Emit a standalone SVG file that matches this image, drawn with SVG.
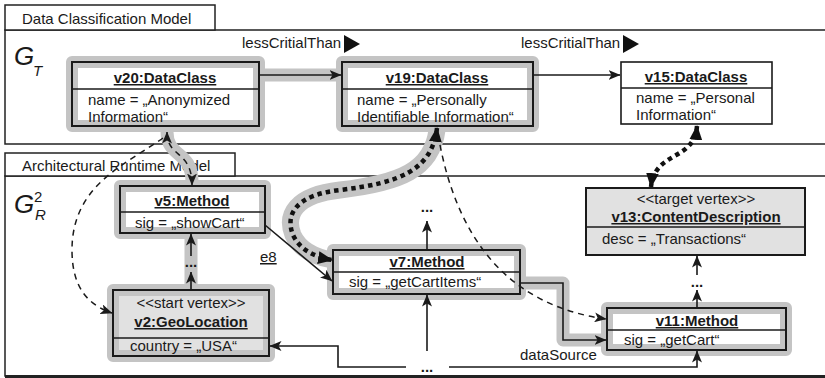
<svg xmlns="http://www.w3.org/2000/svg" width="825" height="378" viewBox="0 0 825 378">
<defs>
<style>
text{font-family:"Liberation Sans",Arial,Helvetica,sans-serif;font-size:15px;fill:#1a1a1a}
.t{font-weight:bold;text-decoration:underline;text-anchor:middle}
.c{text-anchor:middle}
.frame{fill:none;stroke:#222;stroke-width:1.5}
.tab{fill:#fff;stroke:#222;stroke-width:1.5}
.box{fill:#fff;stroke:none}
.gbox{fill:#e1e1e1;stroke:none}
.halo{fill:none;stroke:#c4c4c4;stroke-width:12;stroke-linejoin:round}
.bd{fill:none;stroke:#1a1a1a;stroke-width:2}
.dv{stroke:#1a1a1a;stroke-width:1.5}
.band{fill:none;stroke:#c4c4c4;stroke-width:13;stroke-linecap:round;stroke-linejoin:round}
.ln{fill:none;stroke:#1a1a1a;stroke-width:1.6}
.dash{fill:none;stroke:#1a1a1a;stroke-width:1.5;stroke-dasharray:6 5}
.dot{fill:none;stroke:#111;stroke-width:4.5;stroke-dasharray:4.5 4}
.dots{font-weight:bold;text-anchor:middle}
</style>
<marker id="a" viewBox="0 0 12 10" refX="11.5" refY="5" markerWidth="12" markerHeight="10" markerUnits="userSpaceOnUse" orient="auto-start-reverse"><path d="M0,0 L12,5 L0,10 L3,5 z" fill="#1a1a1a"/></marker>
<marker id="b" viewBox="0 0 14 12" refX="13" refY="6" markerWidth="15" markerHeight="13" markerUnits="userSpaceOnUse" orient="auto-start-reverse"><path d="M0,0 L14,6 L0,12 z" fill="#111"/></marker>
</defs>

<!-- frames -->
<g id="frame-top">
<rect class="frame" x="5" y="30" width="840" height="114"/>
<rect class="tab" x="5" y="5" width="210" height="25"/>
<text x="22" y="24">Data Classification Model</text>
<text x="14" y="65" style="font-size:26px;font-style:italic">G</text>
<text x="33" y="76" style="font-size:15px;font-style:italic">T</text>
</g>
<g id="frame-bottom">
<rect class="frame" x="5" y="176" width="840" height="200"/>
<line x1="5" y1="376.5" x2="825" y2="376.5" stroke="#222" stroke-width="3"/>
<rect class="tab" x="5" y="153" width="230" height="23"/>
<text x="22" y="171">Architectural Runtime Model</text>
<text x="14" y="213" style="font-size:26px;font-style:italic">G</text>
<text x="34" y="202" style="font-size:15px">2</text>
<text x="35" y="220" style="font-size:15px;font-style:italic">R</text>
</g>

<!-- connector halos -->
<g id="connector-bands">
<line class="band" x1="262" y1="75" x2="340" y2="75"/>
<line class="band" x1="191" y1="236" x2="191" y2="288"/>
<polyline class="band" points="521,283 563,283 563,340 606,340"/>
<path class="band" d="M 167 132 C 167 158, 192 150, 192 182"/>
<path class="band" style="stroke-width:17" d="M 437 130 C 432 170, 400 183, 340 190 C 295 195, 285 215, 293 235 C 300 250, 315 257, 332 260"/>
</g>

<!-- nodes -->
<g id="v20">
<rect class="box" x="72" y="62" width="187" height="64"/>
<rect class="halo" x="72" y="62" width="187" height="64"/>
<line class="dv" x1="72" y1="89" x2="259" y2="89"/>
<rect class="bd" x="72" y="62" width="187" height="64"/>
<text class="t" x="165" y="83">v20:DataClass</text>
<text x="88" y="105">name = „Anonymized</text>
<text x="88" y="122">Information“</text>
</g>
<g id="v19">
<rect class="box" x="342" y="62" width="191" height="64"/>
<rect class="halo" x="342" y="62" width="191" height="64"/>
<line class="dv" x1="342" y1="89" x2="533" y2="89"/>
<rect class="bd" x="342" y="62" width="191" height="64"/>
<text class="t" x="437" y="83">v19:DataClass</text>
<text x="357" y="105">name = „Personally</text>
<text x="357" y="122">Identifiable Information“</text>
</g>
<g id="v15">
<rect class="box" x="621" y="62" width="151" height="62"/>
<line class="dv" x1="621" y1="88" x2="772" y2="88"/>
<rect class="bd" x="621" y="62" width="151" height="62" style="stroke-width:1.6"/>
<text class="t" x="696" y="82">v15:DataClass</text>
<text x="636" y="103">name = „Personal</text>
<text x="636" y="120">Information“</text>
</g>
<g id="v5">
<rect class="box" x="120" y="186" width="145" height="47"/>
<rect class="halo" x="120" y="186" width="145" height="47"/>
<line class="dv" x1="120" y1="212" x2="265" y2="212"/>
<rect class="bd" x="120" y="186" width="145" height="47"/>
<text class="t" x="192" y="206">v5:Method</text>
<text x="135" y="228">sig = „showCart“</text>
</g>
<g id="v2">
<rect class="gbox" x="113" y="290" width="156" height="66"/>
<rect class="halo" x="113" y="290" width="156" height="66"/>
<line class="dv" x1="113" y1="338" x2="269" y2="338"/>
<rect class="bd" x="113" y="290" width="156" height="66"/>
<text class="c" x="191" y="308">&lt;&lt;start vertex&gt;&gt;</text>
<text class="t" x="191" y="327">v2:GeoLocation</text>
<text x="130" y="351">country = „USA“</text>
</g>
<g id="v7">
<rect class="box" x="333" y="250" width="187" height="44"/>
<rect class="halo" x="333" y="250" width="187" height="44"/>
<line class="dv" x1="333" y1="272" x2="520" y2="272"/>
<rect class="bd" x="333" y="250" width="187" height="44"/>
<text class="t" x="427" y="267">v7:Method</text>
<text x="349" y="287">sig = „getCartItems“</text>
</g>
<g id="v13">
<rect class="gbox" x="586" y="188" width="219" height="67"/>
<line class="dv" x1="586" y1="227" x2="805" y2="227"/>
<rect class="bd" x="586" y="188" width="219" height="67"/>
<text class="c" x="696" y="204">&lt;&lt;target vertex&gt;&gt;</text>
<text class="t" x="696" y="222">v13:ContentDescription</text>
<text x="602" y="244">desc = „Transactions“</text>
</g>
<g id="v11">
<rect class="box" x="607" y="308" width="179" height="42"/>
<rect class="halo" x="607" y="308" width="179" height="42"/>
<line class="dv" x1="607" y1="330" x2="786" y2="330"/>
<rect class="bd" x="607" y="308" width="179" height="42"/>
<text class="t" x="697" y="326">v11:Method</text>
<text x="624" y="345">sig = „getCart“</text>
</g>

<!-- connectors -->
<g id="connectors">
<line class="ln" x1="259" y1="75" x2="341" y2="75" marker-end="url(#a)"/>
<line class="ln" x1="533" y1="75" x2="620" y2="75" marker-end="url(#a)"/>
<text x="242" y="48">lessCritialThan</text>
<polygon points="344,35 360,44 344,53" fill="#111"/>
<text x="521" y="48">lessCritialThan</text>
<polygon points="623,35 639,44 623,53" fill="#111"/>

<path class="dash" d="M 167 132 C 167 158, 192 150, 192 185" marker-start="url(#a)" marker-end="url(#a)"/>
<path class="dash" d="M 163 138 C 125 165, 72 185, 72 250 C 72 292, 92 306, 112 313" marker-end="url(#a)"/>
<path class="dash" d="M 438 134 C 455 235, 505 305, 606 319" marker-end="url(#a)"/>

<path class="dot" d="M 437 128 C 432 170, 400 183, 340 190 C 295 195, 285 215, 293 235 C 300 250, 315 257, 332 260" marker-start="url(#b)" marker-end="url(#b)"/>
<path class="dot" d="M 697 126 C 694 162, 655 150, 651 187" marker-start="url(#b)" marker-end="url(#b)"/>

<line class="ln" x1="265" y1="225" x2="332" y2="281" marker-end="url(#a)"/>
<text x="260" y="262" style="text-decoration:underline">e8</text>

<line class="ln" x1="191" y1="290" x2="191" y2="272" marker-end="url(#a)"/>
<text class="dots" x="191" y="267">...</text>
<line class="ln" x1="191" y1="256" x2="191" y2="234" marker-end="url(#a)"/>

<line class="ln" x1="427" y1="250" x2="427" y2="221" marker-end="url(#a)"/>
<text class="dots" x="427" y="212">...</text>
<line class="ln" x1="427" y1="351" x2="427" y2="295" marker-end="url(#a)"/>
<text class="dots" x="427" y="372">...</text>
<polyline class="ln" points="406,367 338,367 338,346 270,346" marker-end="url(#a)"/>
<polyline class="ln" points="449,367 697,367 697,351" marker-end="url(#a)"/>

<polyline class="ln" points="521,283 563,283 563,340 606,340" marker-end="url(#a)"/>
<text x="520" y="360">dataSource</text>

<line class="ln" x1="697" y1="308" x2="697" y2="290" marker-end="url(#a)"/>
<text class="dots" x="697" y="287">...</text>
<line class="ln" x1="697" y1="275" x2="697" y2="256" marker-end="url(#a)"/>
</g>
</svg>
